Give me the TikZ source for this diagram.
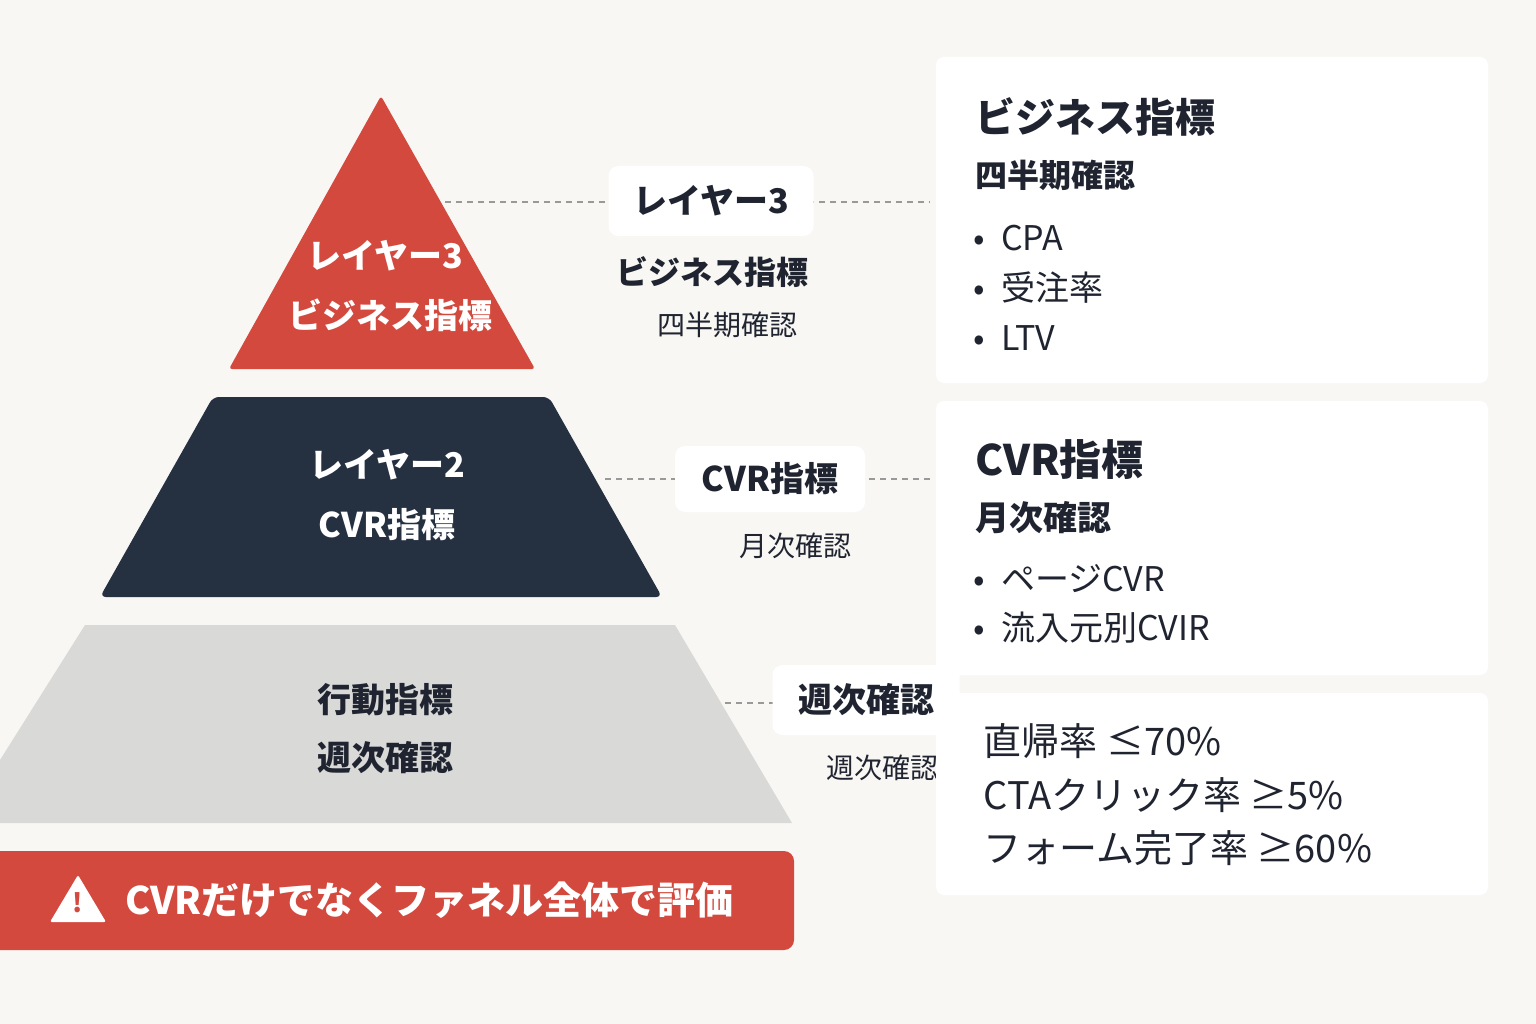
\documentclass[tikz,border=0pt]{standalone}
\usepackage{fontspec}
\setmainfont{Noto Sans CJK JP}
\usetikzlibrary{positioning}
\definecolor{bgc}{HTML}{F8F7F4}
\definecolor{redc}{HTML}{D4493E}
\definecolor{navyc}{HTML}{253041}
\definecolor{greyc}{HTML}{D9D9D8}
\definecolor{inkc}{HTML}{1F2430}
\tikzset{
  lvl/.style={font=\fontsize{34}{40}\selectfont\bfseries, text=white},
  tag/.style={fill=white, rounded corners=10pt, font=\fontsize{34}{40}\selectfont\bfseries, text=inkc},
  sub/.style={font=\fontsize{28}{32}\selectfont, text=inkc},
  card/.style={fill=white, rounded corners=8pt},
  lead/.style={dashed, dash pattern=on 6pt off 5pt, gray!80, line width=2pt},
  item/.style={anchor=west, font=\fontsize{34}{40}\selectfont, text=inkc}
}
\newcommand{\blt}{•\hspace{16pt}}
\begin{document}
\begin{tikzpicture}[x=1pt,y=-1pt]
\fill [bgc] (0,0) rectangle (1536,1024);
\useasboundingbox (0,0) rectangle (1536,1024);
% pyramid
\fill [redc, rounded corners=3pt] (381,96) -- (535,369) -- (229,369) -- cycle;
\fill [navyc, rounded corners=6pt] (213,397) -- (549,397) -- (662,597) -- (100,597) -- cycle;
\fill [greyc] (85,625) -- (675,625) -- (792,823) -- (0,823) -- (0,760) -- cycle;
\node [lvl] (l3a) at (385,256) {レイヤー3};
\node [lvl] (l3b) at (390,315) {ビジネス指標};
\node [lvl] (l2a) at (387,465) {レイヤー2};
\node [lvl] (l2b) at (387,525) {CVR指標};
\node [lvl, text=inkc] (l1a) at (385,700) {行動指標};
\node [lvl, text=inkc] (l1b) at (385,758) {週次確認};
% banner
\fill [redc, rounded corners=10pt] (-20,851) rectangle (794,950);
\fill [white, rounded corners=2pt] (78,875) -- (106,922) -- (50,922) -- cycle;
\node [text=redc, font=\fontsize{26}{26}\selectfont\bfseries] (warn) at (78,903) {!};
\node [lvl, anchor=west, font=\fontsize{38}{44}\selectfont\bfseries] (banner) at (122,900) {CVRだけでなくファネル全体で評価};
% middle tags
\coordinate (d3a) at (445,202);
\coordinate (d3b) at (930,202);
\coordinate (d2a) at (605,479);
\coordinate (d2b) at (930,479);
\coordinate (d1a) at (725,703);
\draw [lead] (d3a) -- (d3b);
\draw [lead] (d2a) -- (d2b);
\draw [lead] (d1a) -- (780,703);
\node [tag, minimum width=205pt, minimum height=70pt] (t3) at (711,201) {レイヤー3};
\node [tag, minimum width=190pt, minimum height=66pt] (t2) at (770,479) {CVR指標};
\node [tag, minimum width=187pt, minimum height=70pt] (t1) at (866,700) {週次確認};
\node [sub, font=\fontsize{32}{36}\selectfont\bfseries] (s3a) at (712,272) {ビジネス指標};
\node [sub] (s3b) at (727,325) {四半期確認};
\node [sub] (s2) at (795,546) {月次確認};
\node [sub] (s1) at (882,768) {週次確認};
% cards
\fill [card] (936,57) rectangle (1488,383);
\fill [card] (936,401) rectangle (1488,675);
\fill [card] (936,693) rectangle (1488,895);
\node [item, font=\fontsize{40}{46}\selectfont\bfseries] (c3h) at (972,117) {ビジネス指標};
\node [item, font=\fontsize{32}{36}\selectfont\bfseries] (c3s) at (972,175) {四半期確認};
\node [item] (c3i) at (970,238) {\blt CPA};
\node [item] (c3j) at (970,288) {\blt 受注率};
\node [item] (c3k) at (970,338) {\blt LTV};
\node [item, font=\fontsize{42}{48}\selectfont\bfseries] (c2h) at (972,460) {CVR指標};
\node [item, font=\fontsize{34}{38}\selectfont\bfseries] (c2s) at (972,518) {月次確認};
\node [item] (c2i) at (970,579) {\blt ページCVR};
\node [item] (c2j) at (970,628) {\blt 流入元別CVIR};
\node [item, font=\fontsize{38}{44}\selectfont] (c1i) at (980,741) {直帰率 ≤70\%};
\node [item, font=\fontsize{38}{44}\selectfont] (c1j) at (980,795) {CTAクリック率 ≥5\%};
\node [item, font=\fontsize{38}{44}\selectfont] (c1k) at (980,848) {フォーム完了率 ≥60\%};
\end{tikzpicture}
\end{document}
